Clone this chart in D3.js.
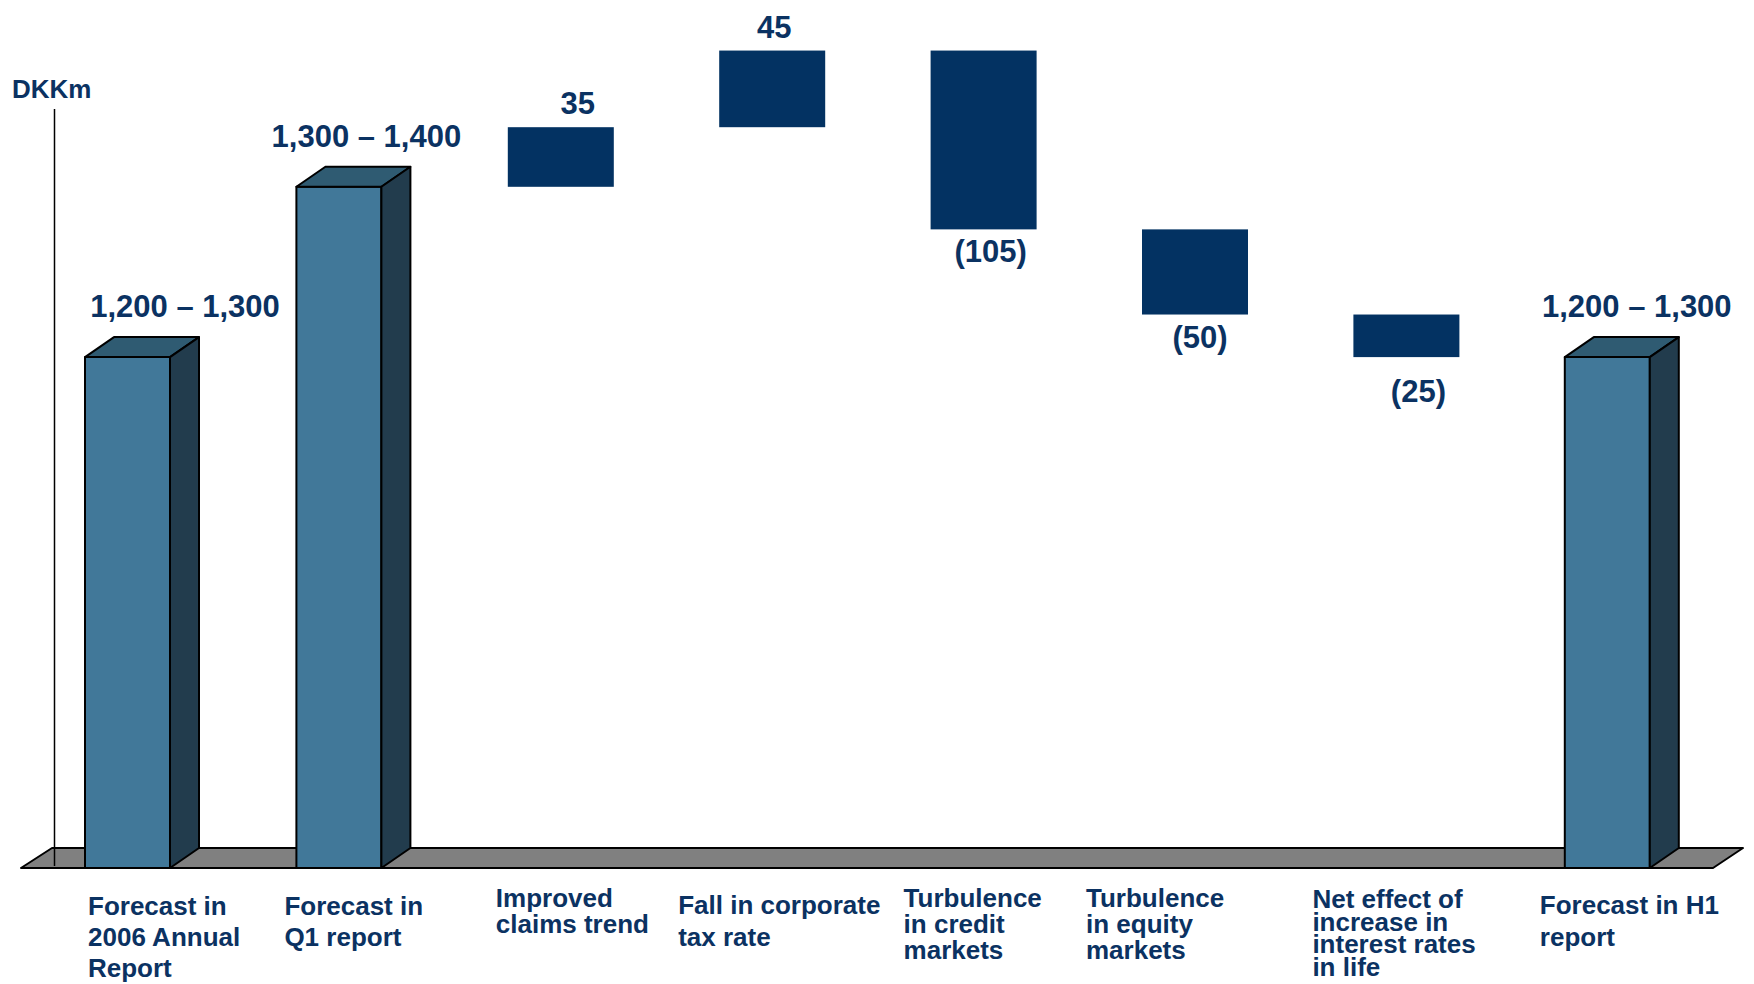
<!DOCTYPE html>
<html>
<head>
<meta charset="utf-8">
<script src="https://cdn.jsdelivr.net/npm/d3@7"></script>
<style>
  html, body { margin: 0; padding: 0; background: #fff; }
  svg { display: block; font-family: Arial, 'Liberation Sans', sans-serif; font-weight: bold; }
</style>
</head>
<body>
<div id="chart"></div>
<script>
// data
const categories = [
  'Forecast in 2006 Annual Report',
  'Forecast in Q1 report',
  'Improved claims trend',
  'Fall in corporate tax rate',
  'Turbulence in credit markets',
  'Turbulence in equity markets',
  'Net effect of increase in interest rates in life',
  'Forecast in H1 report'
];
const categoryLines = [
  ['Forecast in', '2006 Annual', 'Report'],
  ['Forecast in', 'Q1 report'],
  ['Improved', 'claims trend'],
  ['Fall in corporate', 'tax rate'],
  ['Turbulence', 'in credit', 'markets'],
  ['Turbulence', 'in equity', 'markets'],
  ['Net effect of', 'increase in', 'interest rates', 'in life'],
  ['Forecast in H1', 'report']
];
const kinds = ['total', 'total', 'delta', 'delta', 'delta', 'delta', 'delta', 'total'];
const rangeLow = [1200, 1300, null, null, null, null, null, 1200];
const rangeHigh = [1300, 1400, null, null, null, null, null, 1300];
const changes = [null, null, 35, 45, -105, -50, -25, null];
const valueLabels = ['1,200 \u2013 1,300', '1,300 \u2013 1,400', '35', '45', '(105)', '(50)', '(25)', '1,200 \u2013 1,300'];
const unitLabel = 'DKKm';

// layout
const width = 1754;
const height = 984;
const floorFront = 868;
const depthX = 29;
const depthY = 20;
const frontW = 85;
const floatW = 106;
const textColour = '#0b3262';
const floatColour = '#033262';
const frontColour = '#417899';
const topColour = '#2f5b72';
const sideColour = '#223c4d';
const floorColour = '#808080';

// hand placed text blocks, as on the slide
const labelLayout = [
  { dx: -54, y: 915, lh: 31 },
  { dx: -69, y: 915, lh: 31 },
  { dx: -69, y: 907, lh: 26 },
  { dx: -98, y: 914, lh: 32 },
  { dx: -84, y: 907, lh: 26 },
  { dx: -113, y: 907, lh: 26 },
  { dx: -98, y: 908, lh: 22.5 },
  { dx: -82, y: 914, lh: 32 }
];
const valueNudge = [43, 13, 13, -2, 3, 1, 8, 15];
const valueGap = [40, 40, 13, 13, 33, 33, 45, 40];

// running waterfall levels
let level = 0;
const rows = categories.map((c, i) => {
  if (kinds[i] === 'total') {
    level = (rangeLow[i] + rangeHigh[i]) / 2;
    return { cat: c, i, kind: 'total', from: level, to: level };
  }
  const from = level;
  level = level + changes[i];
  return { cat: c, i, kind: 'delta', from, to: level, change: changes[i] };
});

const x = d3.scalePoint().domain(categories).range([142, 1621.8]);
const y = d3.scaleLinear().domain([950, 1450]).range([floorFront, 16.5]);

const svg = d3.select('#chart').append('svg')
  .attr('width', width)
  .attr('height', height);

// floor slab
const fl = 21, fr = 1713;
svg.append('polygon')
  .attr('points', [[fl, floorFront], [fr, floorFront], [fr + 30, floorFront - depthY], [fl + 31, floorFront - depthY]].map(p => p.join(',')).join(' '))
  .attr('fill', floorColour)
  .attr('stroke', '#000')
  .attr('stroke-width', 2)
  .attr('stroke-linejoin', 'round');

// value axis line
svg.append('line')
  .attr('x1', 54.5).attr('x2', 54.5)
  .attr('y1', 109).attr('y2', floorFront - 2)
  .attr('stroke', '#000')
  .attr('stroke-width', 1.5);

svg.append('text')
  .attr('x', 12)
  .attr('y', 98)
  .attr('font-size', 26)
  .attr('fill', textColour)
  .text(unitLabel);

// 3D columns for the forecasts
const totals = rows.filter(d => d.kind === 'total');
const col = svg.selectAll('g.col')
  .data(totals)
  .enter()
  .append('g')
  .attr('class', 'col')
  .attr('stroke', '#000')
  .attr('stroke-width', 2)
  .attr('stroke-linejoin', 'round');

col.append('rect')
  .attr('x', d => x(d.cat) - 57)
  .attr('y', d => y(d.to))
  .attr('width', frontW)
  .attr('height', d => floorFront - y(d.to))
  .attr('fill', frontColour);

col.append('polygon')
  .attr('points', d => {
    const x0 = x(d.cat) - 57, yt = y(d.to);
    return [[x0, yt], [x0 + frontW, yt], [x0 + frontW + depthX, yt - depthY], [x0 + depthX, yt - depthY]].map(p => p.join(',')).join(' ');
  })
  .attr('fill', topColour);

col.append('polygon')
  .attr('points', d => {
    const x1 = x(d.cat) - 57 + frontW, yt = y(d.to);
    return [[x1, yt], [x1 + depthX, yt - depthY], [x1 + depthX, floorFront - depthY], [x1, floorFront]].map(p => p.join(',')).join(' ');
  })
  .attr('fill', sideColour);

// floating change bars
const deltas = rows.filter(d => d.kind === 'delta');
svg.selectAll('rect.step')
  .data(deltas)
  .enter()
  .append('rect')
  .attr('class', 'step')
  .attr('x', d => x(d.cat) - 4 - floatW / 2)
  .attr('y', d => y(Math.max(d.from, d.to)))
  .attr('width', floatW)
  .attr('height', d => Math.abs(y(d.from) - y(d.to)))
  .attr('fill', floatColour);

// value labels
svg.selectAll('text.val')
  .data(rows)
  .enter()
  .append('text')
  .attr('class', 'val')
  .attr('text-anchor', 'middle')
  .attr('font-size', 31)
  .attr('fill', textColour)
  .attr('x', d => x(d.cat) + valueNudge[d.i])
  .attr('y', d => {
    if (d.kind === 'total' || d.change > 0) return y(d.to) - valueGap[d.i];
    return y(d.to) + valueGap[d.i];
  })
  .text(d => valueLabels[d.i]);

// category labels
const lab = svg.selectAll('text.cat')
  .data(rows)
  .enter()
  .append('text')
  .attr('class', 'cat')
  .attr('font-size', 26)
  .attr('fill', textColour)
  .attr('x', d => x(d.cat) + labelLayout[d.i].dx)
  .attr('y', d => labelLayout[d.i].y);

lab.selectAll('tspan')
  .data(d => categoryLines[d.i].map((t, k) => ({ t, k, d })))
  .enter()
  .append('tspan')
  .attr('x', o => x(o.d.cat) + labelLayout[o.d.i].dx)
  .attr('y', o => labelLayout[o.d.i].y + o.k * labelLayout[o.d.i].lh)
  .text(o => o.t);
</script>
</body>
</html>
